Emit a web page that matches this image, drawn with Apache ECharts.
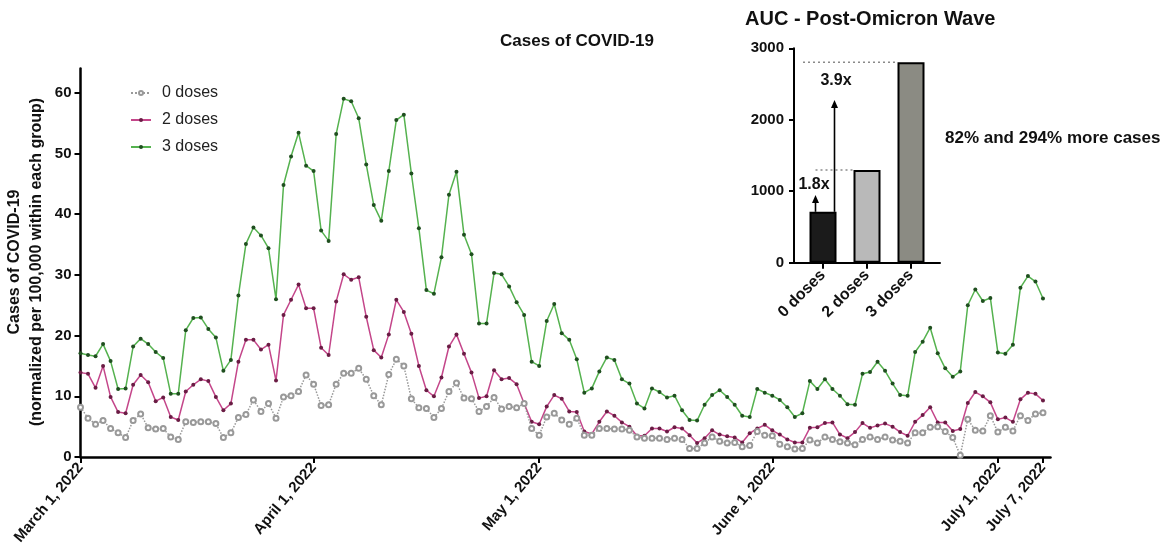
<!DOCTYPE html>
<html><head><meta charset="utf-8">
<script src="https://cdn.jsdelivr.net/npm/echarts@6/dist/echarts.min.js"></script>
<style>html,body{margin:0;padding:0;background:#fff}#c{width:1168px;height:550px}</style>
</head><body><div id="c"></div>
<script>
// ---- Data (cases per 100,000, daily, March 1 – July 7, 2022) ----
const dose0 = [8.2,6.4,5.4,6.0,4.7,4.0,3.2,6.0,7.1,4.8,4.6,4.7,3.3,2.9,5.8,5.7,5.8,5.8,5.5,3.2,
4.0,6.5,7.0,9.4,7.5,8.8,6.4,9.9,10.1,10.8,13.5,12.0,8.5,8.6,12.0,13.8,13.8,14.6,12.8,10.1,
8.6,13.6,16.1,15.0,9.6,8.1,8.0,6.5,8.0,10.8,12.2,9.7,9.6,7.5,8.3,9.8,7.9,8.3,8.1,8.8,
4.7,3.6,6.6,7.2,6.1,5.4,6.4,3.6,3.6,4.7,4.7,4.6,4.6,4.4,3.3,3.1,3.1,3.1,2.9,3.1,
2.9,1.4,1.4,2.3,3.3,2.6,2.3,2.4,1.7,1.9,4.2,3.6,3.5,2.1,1.7,1.3,1.4,2.8,2.3,3.3,
2.9,2.5,2.3,2.0,2.9,3.3,2.9,3.3,2.8,2.6,2.3,4.0,4.0,4.9,5.0,4.2,3.2,0.3,6.2,4.4,
4.3,6.8,4.1,4.9,4.3,6.8,6.0,7.1,7.3];
const dose2 = [13.9,13.7,11.4,15.0,9.9,7.4,7.2,11.9,13.5,12.3,9.2,9.8,6.6,6.1,10.8,11.9,12.8,12.5,9.9,7.7,
8.8,15.7,19.3,19.3,17.7,18.5,12.6,23.4,25.9,28.4,24.5,24.5,18.0,16.8,25.6,30.1,29.2,29.6,23.1,17.6,
16.4,20.2,25.9,23.9,20.3,15.0,11.0,10.0,13.1,18.2,20.2,17.0,13.9,9.7,10.0,14.3,12.8,13.0,12.0,8.8,
5.8,5.4,8.3,10.2,9.6,7.5,7.4,4.2,3.8,5.8,7.5,6.8,5.7,5.0,3.5,3.5,4.7,4.7,4.2,4.9,
4.7,3.6,2.3,3.1,4.4,3.7,3.4,3.2,2.4,3.9,4.7,5.3,4.4,3.7,2.9,2.4,2.4,4.8,4.9,5.6,
5.7,3.7,3.1,4.1,5.6,4.8,5.2,5.5,5.0,4.1,3.5,5.8,6.9,8.2,5.7,5.7,4.3,4.6,8.9,10.7,
10.0,9.0,6.2,6.5,5.8,9.5,10.6,10.4,9.3];
const dose3 = [17.1,16.8,16.6,18.6,15.8,11.2,11.3,18.2,19.5,18.6,17.3,16.3,10.4,10.4,20.9,22.9,23.0,21.1,19.7,14.2,
16.0,26.6,35.1,37.8,36.5,34.4,26.0,44.8,49.5,53.4,48.0,47.1,37.3,35.6,53.2,59.0,58.6,55.8,48.2,41.5,
38.9,47.1,55.5,56.4,46.7,37.7,27.5,26.9,32.9,43.2,47.0,36.6,33.4,22.0,22.0,30.3,30.1,28.1,25.5,23.4,
15.7,15.0,22.4,25.2,20.4,19.3,16.1,10.6,11.3,14.1,16.4,16.0,12.8,12.1,8.8,8.0,11.3,10.7,9.8,10.1,
7.7,6.1,6.0,8.6,10.2,11.0,9.9,8.6,6.8,6.6,11.2,10.6,10.1,9.4,8.2,6.6,7.2,12.5,11.2,12.8,
11.2,10.1,8.7,8.6,13.7,14.0,15.7,14.2,12.1,10.2,10.1,17.3,19.0,21.3,17.1,14.6,13.2,14.1,25.0,27.6,
25.7,26.2,17.2,17.0,18.5,27.9,29.8,28.9,26.1];
const tickDays = [0, 31, 61, 92, 122, 128];
const tickLabels = ['March 1, 2022', 'April 1, 2022', 'May 1, 2022', 'June 1, 2022', 'July 1, 2022', 'July 7, 2022'];
const seriesNames = ['0 doses', '2 doses', '3 doses'];
const yTicksMain = [0, 10, 20, 30, 40, 50, 60];

const aucCategories = ['0 doses', '2 doses', '3 doses'];
const aucValues = [712, 1296, 2805];
const foldLabels = ['1.8x', '3.9x'];
const arrowTips = [947, 2276];
const sideNote = '82% and 294% more cases';

// category axis: one entry per day, plus one trailing slot so the axis runs a little past July 7
const days = [];
for (let i = 0; i <= dose0.length; i++) {
  const d = new Date(2022, 2, 1 + i);
  days.push((d.getMonth() + 1) + '/' + d.getDate());
}

const FONT = '"Liberation Sans", Arial, sans-serif';
const chart = echarts.init(document.getElementById('c'), null, {renderer: 'canvas'});

const option = {
  backgroundColor: '#fff',
  animation: false,
  textStyle: {fontFamily: FONT},
  title: [
    {text: 'Cases of COVID-19', left: 572, top: 28, textAlign: 'center',
     textStyle: {fontSize: 17, fontWeight: 'bold', color: '#111', fontFamily: FONT}},
    {text: 'AUC - Post-Omicron Wave', left: 740, top: 4,
     textStyle: {fontSize: 20, fontWeight: 'bold', color: '#111', fontFamily: FONT}},
    {text: sideNote, left: 940, top: 125,
     textStyle: {fontSize: 17, fontWeight: 'bold', color: '#111', fontFamily: FONT}}
  ],
  legend: {
    data: seriesNames, orient: 'vertical', left: 125, top: 80,
    itemWidth: 20, itemHeight: 5, itemGap: 11,
    textStyle: {fontSize: 16, color: '#222', fontFamily: FONT, padding: [0, 0, 0, 6]}
  },
  grid: [
    {left: 80.5, right: 117.5, top: 68.5, bottom: 93},
    {left: 794, width: 146, top: 48.3, height: 214.4},
    {left: 801, width: 132, top: 48.3, height: 214.4}
  ],
  xAxis: [
    {type: 'category', gridIndex: 0, data: days, boundaryGap: false,
     axisLine: {lineStyle: {color: '#000', width: 2.5}},
     axisTick: {interval: (i) => tickDays.includes(i), length: 6, lineStyle: {color: '#000', width: 2}},
     axisLabel: {interval: (i) => tickDays.includes(i),
       formatter: (v, i) => { const k = tickDays.indexOf(i); return k >= 0 ? tickLabels[k] : ''; },
       rotate: 50, fontSize: 15, fontWeight: 'bold', color: '#111', margin: 8, fontFamily: FONT},
     splitLine: {show: false}},
    {type: 'value', gridIndex: 1, min: 0, max: 1,
     axisLine: {show: true, lineStyle: {color: '#000', width: 2}},
     axisTick: {show: false}, axisLabel: {show: false}, splitLine: {show: false}},
    {type: 'category', gridIndex: 2, data: aucCategories,
     axisLine: {show: false},
     axisTick: {show: true, alignWithLabel: true, length: 6, lineStyle: {color: '#000', width: 2}},
     axisLabel: {rotate: 45, fontSize: 16, fontWeight: 'bold', color: '#111', margin: 10, fontFamily: FONT},
     splitLine: {show: false}}
  ],
  yAxis: [
    {type: 'value', gridIndex: 0, min: 0, max: 64, interval: 10,
     axisLine: {show: true, lineStyle: {color: '#000', width: 2.5}},
     axisTick: {show: true, length: 6, lineStyle: {color: '#000', width: 2}},
     axisLabel: {fontSize: 15, fontWeight: 'bold', color: '#111', margin: 9, showMaxLabel: false,
       formatter: (v) => yTicksMain.includes(v) ? String(v) : '', fontFamily: FONT},
     splitLine: {show: false}},
    {type: 'value', gridIndex: 1, min: 0, max: 3000, interval: 1000,
     axisLine: {show: true, lineStyle: {color: '#000', width: 2}},
     axisTick: {show: true, length: 5, lineStyle: {color: '#000', width: 2}},
     axisLabel: {fontSize: 15, fontWeight: 'bold', color: '#111', margin: 10, fontFamily: FONT,
       formatter: (v) => String(v)},
     splitLine: {show: false}},
    {type: 'value', gridIndex: 2, min: 0, max: 3000, show: false, splitLine: {show: false}}
  ],
  series: [
    {name: seriesNames[0], type: 'line', xAxisIndex: 0, yAxisIndex: 0, data: dose0,
     symbol: 'emptyCircle', symbolSize: 5, showAllSymbol: true, z: 4,
     lineStyle: {color: '#999999', width: 1.5, type: 'dotted'},
     itemStyle: {color: '#999999', borderColor: '#8a8a8a', borderWidth: 1.1}},
    {name: seriesNames[1], type: 'line', xAxisIndex: 0, yAxisIndex: 0, data: dose2,
     symbol: 'circle', symbolSize: 4, showAllSymbol: true, z: 3,
     lineStyle: {color: '#c4468a', width: 1.5},
     itemStyle: {color: '#6a1c44'}},
    {name: seriesNames[2], type: 'line', xAxisIndex: 0, yAxisIndex: 0, data: dose3,
     symbol: 'circle', symbolSize: 4, showAllSymbol: true, z: 2,
     lineStyle: {color: '#55b24f', width: 1.5},
     itemStyle: {color: '#1f4f1f'}},
    {name: 'AUC', type: 'bar', xAxisIndex: 2, yAxisIndex: 2, barWidth: 27,
     data: aucValues.map((v, i) => ({value: v, itemStyle: {color: ['#1b1b1b', '#b9b9b9', '#8b8b83'][i]}})),
     itemStyle: {borderColor: '#000', borderWidth: 2}}
  ]
};
chart.setOption(option);

// annotations on the inset, positioned from data through the inset's axes
function px(i, v) { return chart.convertToPixel({xAxisIndex: 2, yAxisIndex: 2}, [i, v]); }
const half = 13.5;
const p0 = px(0, aucValues[0]), p1 = px(1, aucValues[1]), p2 = px(2, aucValues[2]);
const gridLeft = chart.convertToPixel({xAxisIndex: 1, yAxisIndex: 1}, [0, 0])[0];
const aShortX = p0[0] - half + 6, aLongX = p0[0] + half - 2;
const tip0 = px(0, arrowTips[0])[1], tip1 = px(0, arrowTips[1])[1];
function arrow(x, y0, y1) {
  return [
    {type: 'line', shape: {x1: x, y1: y0, x2: x, y2: y1 + 6}, style: {stroke: '#000', lineWidth: 1.6}, z: 10},
    {type: 'polygon', shape: {points: [[x, y1], [x - 3.5, y1 + 8], [x + 3.5, y1 + 8]]}, style: {fill: '#000'}, z: 10}
  ];
}
const dot = {stroke: '#8a8a8a', lineWidth: 1.5, lineDash: [2, 3]};
chart.setOption({
  graphic: [
    {type: 'line', shape: {x1: gridLeft + 9, y1: p2[1], x2: p2[0] - half, y2: p2[1]}, style: dot, z: 9},
    {type: 'line', shape: {x1: aShortX, y1: p1[1], x2: p1[0] - half, y2: p1[1]}, style: dot, z: 9},
    ...arrow(aShortX, p0[1], tip0),
    ...arrow(aLongX, p0[1], tip1),
    {type: 'text', x: 814, y: tip0 - 10, style: {text: foldLabels[0], font: 'bold 16px ' + FONT, fill: '#111', textAlign: 'center', textVerticalAlign: 'middle'}, z: 11},
    {type: 'text', x: 836, y: tip1 - 19, style: {text: foldLabels[1], font: 'bold 16px ' + FONT, fill: '#111', textAlign: 'center', textVerticalAlign: 'middle'}, z: 11},
    {type: 'text', x: 26, y: 262, rotation: Math.PI / 2,
     style: {text: 'Cases of COVID-19\n(normalized per 100,000 within each group)', font: 'bold 16px ' + FONT,
       fill: '#111', textAlign: 'center', textVerticalAlign: 'middle', lineHeight: 22}, z: 11}
  ]
});
</script></body></html>
